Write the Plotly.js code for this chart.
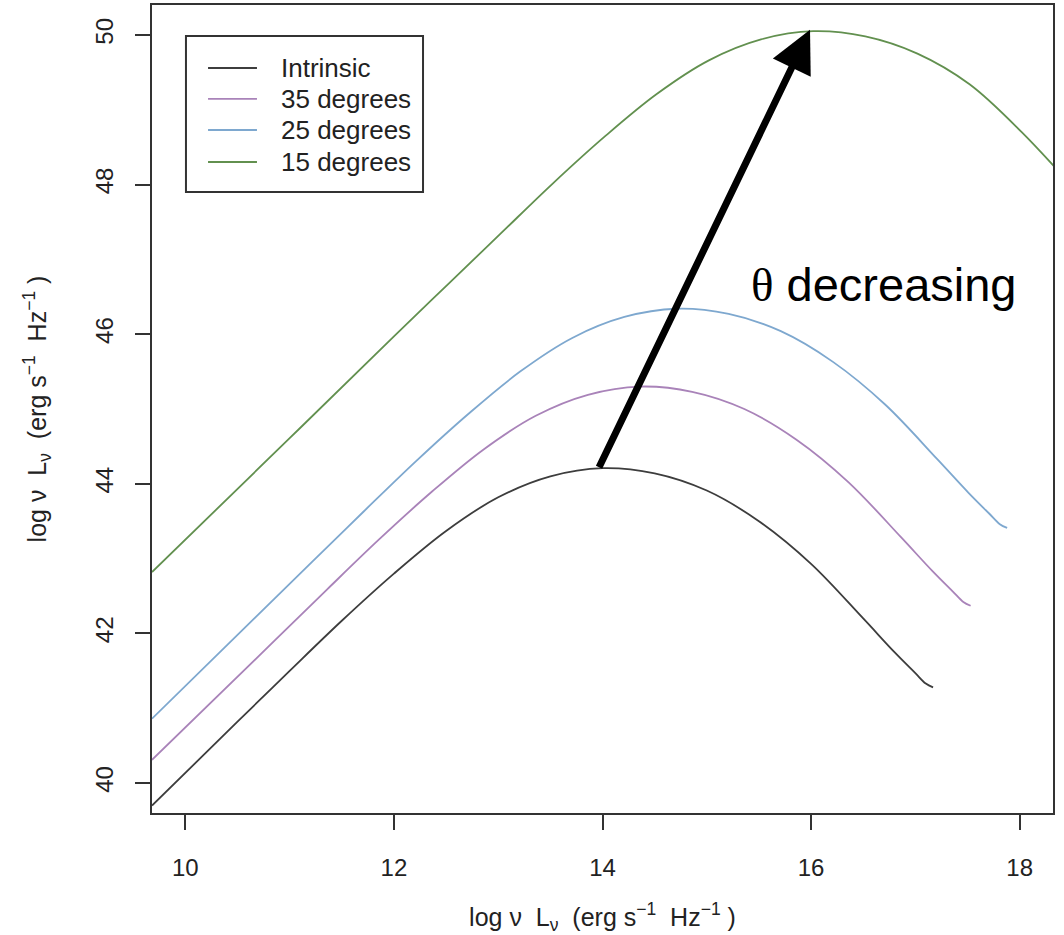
<!DOCTYPE html>
<html>
<head>
<meta charset="utf-8">
<script src="https://cdn.plot.ly/plotly-3.0.1.min.js"></script>
<style>html,body{margin:0;padding:0;background:#fff;}#chart{width:1064px;height:935px;}</style>
</head>
<body>
<div id="chart"></div>
<script>
// Series
const seriesNames = ["Intrinsic", "35 degrees", "25 degrees", "15 degrees"];

const intrinsicX = [9.68, 10.50, 11.00, 11.50, 12.00, 12.50, 13.00, 13.50, 14.00, 14.50, 15.00, 15.50, 16.00, 16.50, 16.80, 17.00, 17.10, 17.17];
const intrinsicY = [39.70, 40.82, 41.50, 42.17, 42.80, 43.37, 43.82, 44.10, 44.21, 44.14, 43.91, 43.50, 42.93, 42.20, 41.75, 41.47, 41.33, 41.28];

const deg35X = [9.68, 10.86, 11.36, 11.86, 12.36, 12.86, 13.36, 13.86, 14.36, 14.86, 15.36, 15.86, 16.36, 16.86, 17.16, 17.36, 17.46, 17.53];
const deg35Y = [40.31, 41.91, 42.59, 43.26, 43.89, 44.46, 44.91, 45.19, 45.30, 45.23, 45.00, 44.59, 44.02, 43.29, 42.84, 42.56, 42.42, 42.37];

const deg25X = [9.68, 11.21, 11.71, 12.21, 12.71, 13.21, 13.71, 14.21, 14.71, 15.21, 15.71, 16.21, 16.71, 17.21, 17.51, 17.71, 17.81, 17.88];
const deg25Y = [40.86, 42.95, 43.63, 44.30, 44.93, 45.50, 45.95, 46.23, 46.34, 46.27, 46.04, 45.63, 45.06, 44.33, 43.88, 43.60, 43.46, 43.41];

const deg15X = [9.68, 11.00, 12.00, 12.52, 13.02, 13.52, 14.02, 14.52, 15.02, 15.52, 16.02, 16.52, 17.02, 17.52, 18.02, 18.52];
const deg15Y = [42.82, 44.61, 45.97, 46.67, 47.34, 48.01, 48.64, 49.21, 49.66, 49.94, 50.05, 49.98, 49.75, 49.34, 48.70, 47.95];

const seriesColors = ["#3d3d3d", "#a983b9", "#7ea8cf", "#62904f"];

const xTicks = [10, 12, 14, 16, 18];
const yTicks = [40, 42, 44, 46, 48, 50];
const xRange = [9.68, 18.32];
const yRange = [39.6, 50.4];

// Arrow annotation (tail at intrinsic peak, head at 15 degree peak)
const arrowTail = [13.96, 44.20];
const arrowHead = [15.99, 50.07];
const arrowLabelPos = [16.70, 46.66];

const axisTitle = "log ν  L<sub>ν</sub>  (erg s<sup>−1</sup>  Hz<sup>−1</sup> )";

const FONT = "Liberation Sans, Arial, sans-serif";
const xs = [intrinsicX, deg35X, deg25X, deg15X];
const ys = [intrinsicY, deg35Y, deg25Y, deg15Y];

const traces = seriesNames.map((n, i) => ({
  type: "scatter", mode: "lines", name: n,
  x: xs[i], y: ys[i],
  line: {color: seriesColors[i], width: 1.8, shape: "spline", smoothing: 1},
  showlegend: false
}));

// Legend box drawn in paper coordinates (R-style legend)
const legendBox = {x0: 0.0377, x1: 0.3008, y0: 0.7686, y1: 0.9616};
const legendRowsY = [0.9220, 0.8837, 0.8453, 0.8057];
const legendLineX = [0.0622, 0.1165];
const legendTextX = 0.1410;

const shapes = [{
  type: "rect", xref: "paper", yref: "paper",
  x0: legendBox.x0, x1: legendBox.x1, y0: legendBox.y0, y1: legendBox.y1,
  line: {color: "#333", width: 2}, fillcolor: "#fff", layer: "above"
}];
const annotations = [];
seriesNames.forEach((n, i) => {
  shapes.push({
    type: "line", xref: "paper", yref: "paper",
    x0: legendLineX[0], x1: legendLineX[1], y0: legendRowsY[i], y1: legendRowsY[i],
    line: {color: seriesColors[i], width: 1.8}, layer: "above"
  });
  annotations.push({
    xref: "paper", yref: "paper", x: legendTextX, y: legendRowsY[i],
    xanchor: "left", yanchor: "middle", showarrow: false, text: n,
    font: {family: FONT, size: 26, color: "#222"}
  });
});

annotations.push({
  x: arrowHead[0], y: arrowHead[1], xref: "x", yref: "y",
  ax: arrowTail[0], ay: arrowTail[1], axref: "x", ayref: "y",
  text: "", showarrow: true, arrowhead: 2, arrowsize: 1.2, arrowwidth: 7,
  arrowcolor: "#000", standoff: 0, startstandoff: 0
});
annotations.push({
  x: arrowLabelPos[0], y: arrowLabelPos[1], xref: "x", yref: "y",
  text: "<span style=\"font-family:'Liberation Serif', serif\">θ</span> decreasing",
  showarrow: false, font: {family: FONT, size: 47, color: "#000"},
  xanchor: "center", yanchor: "middle"
});

const axisCommon = {
  showgrid: false, zeroline: false, showline: true, mirror: true,
  linecolor: "#333", linewidth: 2, ticks: "outside", ticklen: 15, tickwidth: 2,
  tickcolor: "#333", tickfont: {family: FONT, size: 24, color: "#222"}
};

const layout = {
  width: 1064, height: 935,
  margin: {l: 152, r: 11, t: 5, b: 122},
  paper_bgcolor: "#fff", plot_bgcolor: "#fff",
  font: {family: FONT, color: "#222"},
  showlegend: false,
  xaxis: Object.assign({}, axisCommon, {
    range: xRange, tickvals: xTicks, ticktext: xTicks.map(String),
    ticklabelstandoff: 17,
    title: {text: axisTitle, font: {family: FONT, size: 25, color: "#222"}, standoff: 36}
  }),
  yaxis: Object.assign({}, axisCommon, {
    range: yRange, tickvals: yTicks, ticktext: yTicks.map(String),
    tickangle: -90, ticklabelstandoff: 12,
    title: {text: axisTitle, font: {family: FONT, size: 25, color: "#222"}, standoff: 38}
  }),
  shapes: shapes,
  annotations: annotations
};

Plotly.newPlot("chart", traces, layout, {displayModeBar: false, staticPlot: true});
</script>
</body>
</html>
